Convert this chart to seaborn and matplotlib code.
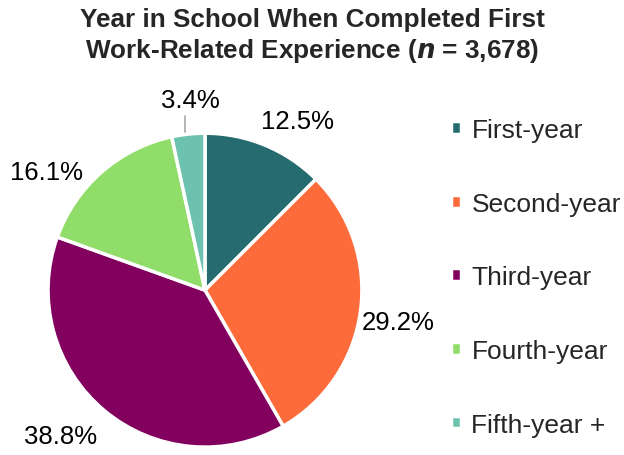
import seaborn as sns
import matplotlib.pyplot as plt

categories = ['First-year', 'Second-year', 'Third-year', 'Fourth-year', 'Fifth-year +']
shares = [12.5, 29.2, 38.8, 16.1, 3.4]
colors = ['#266b6f', '#fe6b3a', '#82005e', '#90de69', '#6cc2ae']
label_pos = [(0.59, 1.08), (1.23, -0.20), (-0.92, -0.93), (-1.01, 0.75), (-0.09, 1.21)]

sns.set_theme(style='white')
plt.rcParams['font.family'] = ['Liberation Sans', 'DejaVu Sans']

fig = plt.figure(figsize=(6.24, 4.56), dpi=100)
ax = fig.add_axes([0.077, 0.017, 0.503, 0.689])

wedges, texts, autotexts = ax.pie(
    shares, colors=colors, startangle=90, counterclock=False,
    autopct='%.1f%%', pctdistance=1.2,
    wedgeprops=dict(edgecolor='white', linewidth=2.5),
    textprops=dict(fontsize=18.5, color='black'))
ax.set_aspect('equal')
ax.set_xlim(-1, 1)
ax.set_ylim(-1, 1)

for t, pos in zip(autotexts, label_pos):
    t.set_position(pos)
    t.set_clip_on(False)

# leader line for the small slice
ax.plot([-0.127, -0.127], [1.01, 1.11], color='#a6a6a6', lw=1.2, clip_on=False)

fig.suptitle('Year in School When Completed First\nWork-Related Experience ($\\boldsymbol{n}$ = 3,678)',
             fontsize=18.8, fontweight='bold', y=0.982, x=0.5, linespacing=1.25)

leg = fig.legend(wedges, categories, loc='upper left', bbox_to_anchor=(0.706, 0.762),
                 frameon=False, fontsize=19, handlelength=0.37, handleheight=0.37,
                 handletextpad=0.4, labelspacing=1.88, borderaxespad=0)

fig.savefig('out.png', dpi=100)
